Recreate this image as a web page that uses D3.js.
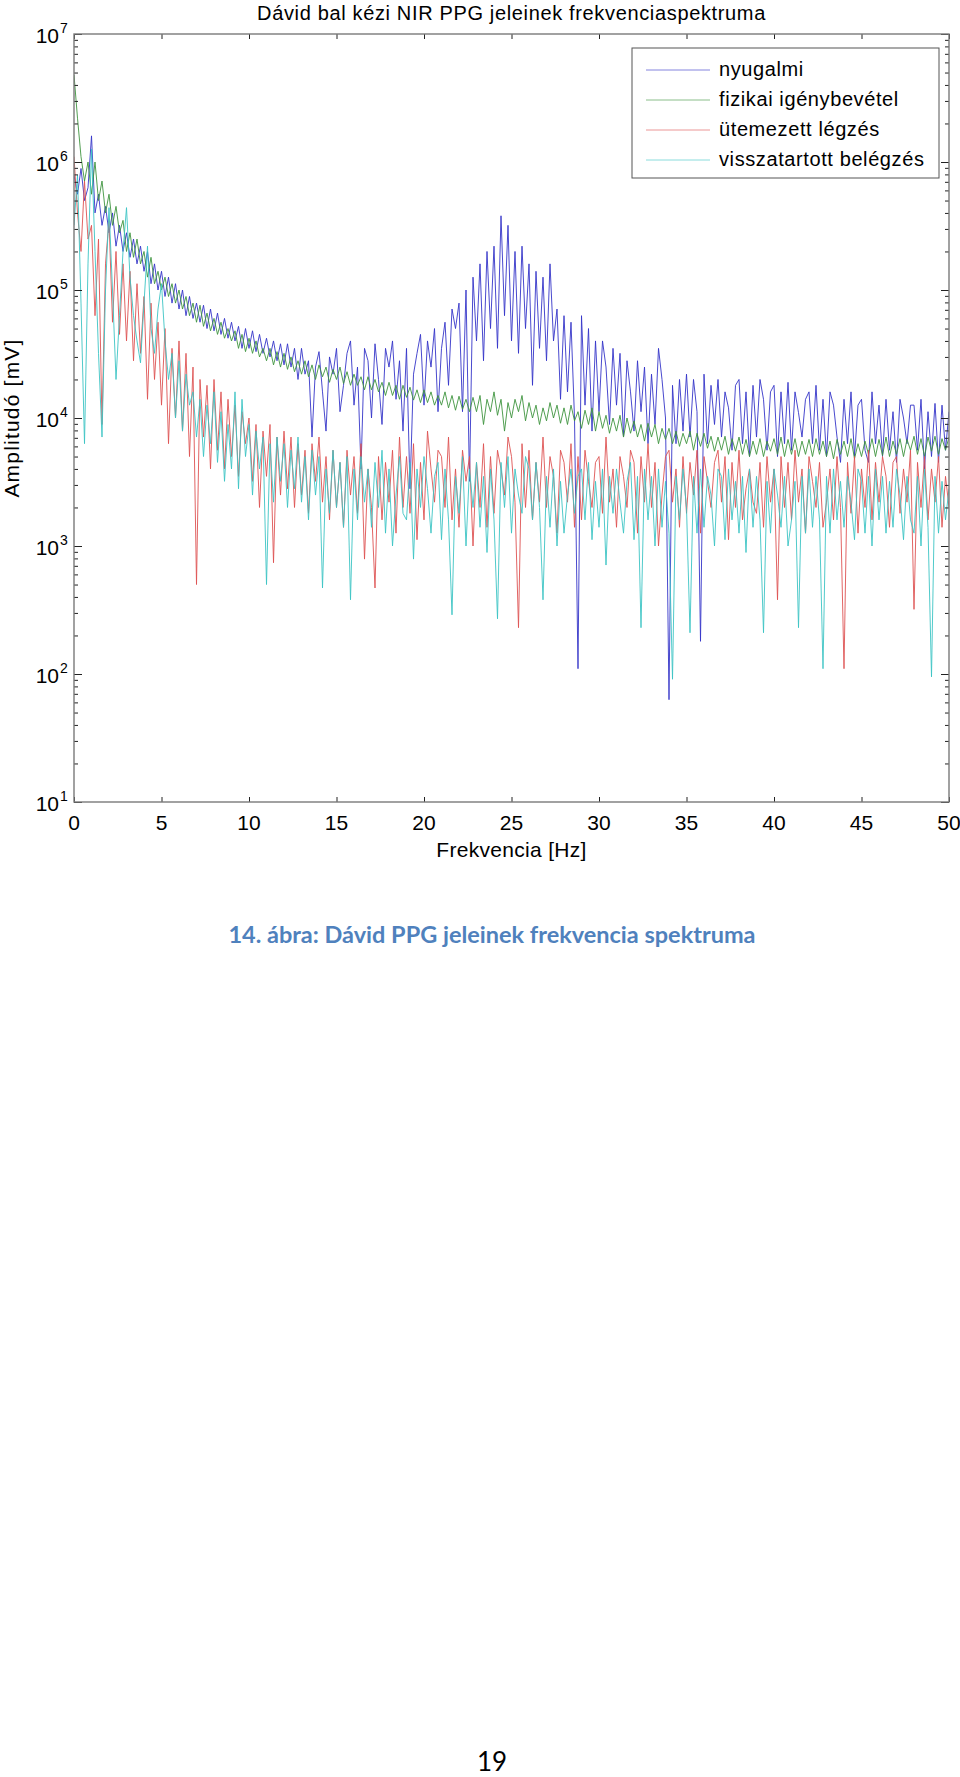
<!DOCTYPE html>
<html>
<head>
<meta charset="utf-8">
<script src="https://cdn.jsdelivr.net/npm/d3@7"></script>
<style>
  body { margin: 0; background: #fff; }
  text { font-family: "Liberation Sans", Arial, sans-serif; fill: #000; }
</style>
</head>
<body>
<div id="dchart"></div>
<script>
// FFT bin grid, 0.2 Hz apart, 0..50 Hz
const freqHz = d3.range(0, 251).map(i => i / 5);

// amplitudes [mV], one row per Hz (5 bins each)
const nyugalmi = [
  7.9e5, 5.6e5, 8.9e5, 5e5, 6.3e5,
  1.6e6, 4e5, 5.6e5, 3.2e5, 4.5e5,
  2.8e5, 4e5, 2.2e5, 3.2e5, 2e5,
  2.8e5, 1.8e5, 2.5e5, 1.6e5, 2.2e5,
  1.4e5, 2e5, 1.12e5, 1.6e5, 1e5,
  1.4e5, 8.9e4, 1.26e5, 7.9e4, 1.12e5,
  7.1e4, 1e5, 6.3e4, 8.9e4, 6e4,
  7.9e4, 5.6e4, 7.6e4, 5e4, 7.1e4,
  4.8e4, 6.6e4, 4.5e4, 6e4, 4.2e4,
  5.6e4, 4e4, 5.2e4, 3.5e4, 5e4,
  3.5e4, 4.8e4, 3.3e4, 4.5e4, 3.2e4,
  4.2e4, 3e4, 4e4, 2.8e4, 3.8e4,
  2.6e4, 3.8e4, 2.5e4, 3.5e4, 2e4,
  3.5e4, 2.2e4, 2.8e4, 7.1e3, 2.5e4,
  3.3e4, 1.6e4, 7.9e3, 3e4, 2.2e4,
  3.5e4, 1.12e4, 1.8e4, 3.2e4, 4e4,
  1.26e4, 2.5e4, 4e3, 3.5e4, 2.8e4,
  1e4, 3.8e4, 2e4, 8.9e3, 3.5e4,
  2.5e4, 4e4, 1.4e4, 2.8e4, 7.9e3,
  3.5e4, 2.8e3, 2.2e4, 3.2e4, 4.5e4,
  1.26e4, 4e4, 2.5e4, 5e4, 1.12e4,
  3.5e4, 5.6e4, 1.8e4, 7.1e4, 5e4,
  7.9e4, 1.12e4, 1e5, 3.2e3, 1.26e5,
  4e4, 1.6e5, 2.8e4, 2e5, 5e4,
  2.2e5, 3.5e4, 3.8e5, 6.3e4, 3.2e5,
  4e4, 2e5, 3.2e4, 2.2e5, 5e4,
  1.6e5, 1.8e4, 1.4e5, 3.5e4, 1.26e5,
  2.8e4, 1.6e5, 4e4, 7.1e4, 1.4e4,
  6.3e4, 1.6e4, 5.6e4, 1e4, 1.1e2,
  6.3e4, 1.26e4, 5e4, 7.9e3, 4e4,
  1.12e4, 4e4, 2.5e4, 8.9e3, 3.5e4,
  1.26e4, 3.2e4, 7.1e3, 2.8e4, 1.6e4,
  7.9e3, 2.8e4, 1.12e4, 2.5e4, 6.3e3,
  2.2e4, 8.9e3, 3.5e4, 2e4, 1e4,
  63, 1.8e4, 6.3e3, 2e4, 7.9e3,
  2.2e4, 7.1e3, 2e4, 1.12e4, 1.8e2,
  2.2e4, 6.3e3, 1.8e4, 8.9e3, 2e4,
  7.1e3, 1.6e4, 1.2e4, 5.6e3, 1.8e4,
  2e4, 6.3e3, 1.6e4, 5e3, 1.8e4,
  7.1e3, 2e4, 1.4e4, 5.6e3, 1.6e4,
  1.8e4, 5e3, 1.6e4, 6.3e3, 1.9e4,
  5.6e3, 1.6e4, 1.1e4, 7.1e3, 1.4e4,
  1.6e4, 6.3e3, 1.8e4, 5.6e3, 1.4e4,
  5e3, 1.6e4, 1.26e4, 7.1e3, 4.5e3,
  1.4e4, 6.3e3, 1.6e4, 5e3, 1.26e4,
  1.4e4, 5.6e3, 4.5e3, 1.6e4, 6.3e3,
  1.26e4, 5e3, 1.4e4, 5.6e3, 1.12e4,
  4.5e3, 1.4e4, 1e4, 6.3e3, 1.26e4,
  1.26e4, 5.6e3, 1.4e4, 4e3, 1.12e4,
  5e3, 1.3e4, 4.5e3, 1.26e4, 5.6e3,
  1.12e4
];

const fizikai = [
  4.8e6, 2.2e6, 1.1e6, 7.1e5, 1e6,
  5.6e5, 1e6, 5e5, 7.1e5, 4e5,
  5.6e5, 3.2e5, 4.5e5, 2.8e5, 3.5e5,
  2e5, 2.8e5, 1.8e5, 2.5e5, 1.6e5,
  2e5, 1.26e5, 1.8e5, 1.12e5, 1.4e5,
  1e5, 1.26e5, 8.9e4, 1.12e5, 7.9e4,
  1e5, 7.1e4, 8.9e4, 6.3e4, 7.9e4,
  5.6e4, 7.6e4, 5.2e4, 6.6e4, 4.8e4,
  6e4, 4.5e4, 5.6e4, 4.2e4, 5e4,
  4e4, 4.8e4, 3.5e4, 4.5e4, 3.3e4,
  4.2e4, 3.2e4, 4e4, 3e4, 3.5e4,
  2.8e4, 3.5e4, 2.6e4, 3.3e4, 2.5e4,
  3.2e4, 2.4e4, 3e4, 2.3e4, 2.8e4,
  2.2e4, 2.8e4, 2.1e4, 2.6e4, 2e4,
  2.6e4, 2.1e4, 2.5e4, 1.9e4, 2.4e4,
  2e4, 2.5e4, 1.86e4, 2.3e4, 1.8e4,
  2.2e4, 1.8e4, 2.1e4, 1.66e4, 2.1e4,
  1.66e4, 2e4, 1.6e4, 1.9e4, 1.5e4,
  1.9e4, 1.5e4, 1.8e4, 1.4e4, 1.8e4,
  1.45e4, 1.74e4, 1.38e4, 1.66e4, 1.32e4,
  1.66e4, 1.32e4, 1.6e4, 1.26e4, 1.5e4,
  1.26e4, 1.6e4, 1.2e4, 1.5e4, 1.15e4,
  1.48e4, 1.17e4, 1.4e4, 1.12e4, 1.45e4,
  1.12e4, 1.5e4, 8.9e3, 1.4e4, 1.12e4,
  1.6e4, 1.05e4, 1.4e4, 7.9e3, 1.32e4,
  1e4, 1.4e4, 1.12e4, 1.5e4, 9.5e3,
  1.32e4, 1e4, 1.26e4, 8.9e3, 1.2e4,
  9.5e3, 1.32e4, 1e4, 1.26e4, 9.1e3,
  1.2e4, 8.9e3, 1.26e4, 9.5e3, 1.12e4,
  8.3e3, 1.15e4, 8.9e3, 1.2e4, 7.9e3,
  1.12e4, 8.3e3, 1.05e4, 7.6e3, 1e4,
  7.9e3, 1.05e4, 7.1e3, 1e4, 7.6e3,
  9.5e3, 7.1e3, 8.9e3, 6.6e3, 9.1e3,
  7.1e3, 8.9e3, 6.3e3, 8.3e3, 6.8e3,
  8.3e3, 6.3e3, 7.9e3, 6e3, 7.6e3,
  6.3e3, 7.9e3, 5.6e3, 7.6e3, 6e3,
  7.6e3, 5.8e3, 7.2e3, 5.5e3, 7.1e3,
  5.6e3, 7.2e3, 5.2e3, 6.9e3, 5.5e3,
  7.1e3, 5.2e3, 6.8e3, 5e3, 6.6e3,
  5.2e3, 6.9e3, 5e3, 6.6e3, 5.5e3,
  6.9e3, 5.2e3, 7.1e3, 5e3, 6.8e3,
  5.2e3, 6.9e3, 5e3, 6.6e3, 5.2e3,
  6.8e3, 5e3, 6.9e3, 5.2e3, 6.6e3,
  5e3, 6.6e3, 4.8e3, 6.8e3, 5.2e3,
  6.6e3, 5e3, 6.9e3, 4.8e3, 6.3e3,
  5e3, 6.6e3, 5.2e3, 6.9e3, 5e3,
  6.8e3, 5.1e3, 7.1e3, 5e3, 6.6e3,
  5.2e3, 6.9e3, 5e3, 6.8e3, 5.6e3,
  7.2e3, 5.2e3, 6.9e3, 5e3, 7.1e3,
  5.5e3, 7.2e3, 5.2e3, 6.9e3, 5.6e3,
  7.1e3
];

const utemezett = [
  1.1e6, 4e5, 2e5, 7.1e5, 2.5e5,
  3.2e5, 6.3e4, 2.5e5, 8.9e3, 1.6e5,
  3.5e5, 5.6e4, 2e5, 4.5e4, 1.6e5,
  4e4, 1.4e5, 2.8e4, 1.12e5, 3.2e4,
  8.9e4, 1.4e4, 7.9e4, 2e4, 5.6e4,
  1.26e4, 5e4, 6.3e3, 3.5e4, 1e4,
  4e4, 7.9e3, 3.2e4, 5e3, 2.5e4,
  5e2, 2e4, 7.1e3, 1.8e4, 4e3,
  2e4, 5.6e3, 1.6e4, 4e3, 1.4e4,
  5e3, 1.26e4, 3.5e3, 1.12e4, 6.3e3,
  1e4, 3.2e3, 8.9e3, 2e3, 7.9e3,
  3.5e3, 8.9e3, 7.4e2, 7.1e3, 2.5e3,
  7.9e3, 2.8e3, 7.1e3, 2e3, 6.3e3,
  2.5e3, 5.6e3, 1.8e3, 6.3e3, 3.2e3,
  7.1e3, 2.2e3, 5e3, 1.6e3, 5.6e3,
  2e3, 4.5e3, 1.4e3, 5.6e3, 2.5e3,
  5e3, 1.8e3, 6.3e3, 7.9e2, 4e3,
  2e3, 4.7e2, 5e3, 1.6e3, 4.5e3,
  2.2e3, 5.6e3, 1.26e3, 7.1e3, 2e3,
  5e3, 1.8e3, 6.3e3, 1.12e3, 4.5e3,
  1.6e3, 7.9e3, 4e3, 2.2e3, 5.6e3,
  5e3, 2e3, 7.1e3, 1.6e3, 4e3,
  1.4e3, 5.6e3, 3.2e3, 5e3, 1e3,
  4.5e3, 2e3, 6.3e3, 1.4e3, 5e3,
  1.8e3, 5.6e3, 4e3, 2.5e3, 7.1e3,
  5e3, 2.2e3, 2.3e2, 6.3e3, 2e3,
  5.6e3, 1.6e3, 4.5e3, 2.2e3, 7.1e3,
  2e3, 5e3, 3.5e3, 1.26e3, 5.6e3,
  4.5e3, 2.2e3, 6.3e3, 1.4e3, 5e3,
  1.6e3, 5.6e3, 3.2e3, 2e3, 4.5e3,
  5e3, 1.8e3, 7.1e3, 2.2e3, 4e3,
  1.4e3, 5e3, 3.5e3, 2e3, 5.6e3,
  4.5e3, 1.26e3, 5e3, 2.2e3, 6.3e3,
  2e3, 4.5e3, 1e3, 2.5e3, 5e3,
  5.6e3, 2.2e3, 4e3, 1.4e3, 5e3,
  1.8e3, 4.5e3, 2.5e3, 5.6e3, 1.26e3,
  5e3, 3.2e3, 2e3, 4.5e3, 5.6e3,
  2.2e3, 5e3, 1.12e3, 4.5e3, 2e3,
  5.6e3, 1.6e3, 2.8e3, 4e3, 2.2e3,
  1.8e3, 4.5e3, 1.4e3, 5e3, 2.2e3,
  4e3, 3.8e2, 5e3, 2e3, 4.5e3,
  1.6e3, 5.6e3, 2.2e3, 4e3, 1.26e3,
  5e3, 3.2e3, 2e3, 4.5e3, 1.4e3,
  2.2e3, 4e3, 1.6e3, 5e3, 2e3,
  1.1e2, 4.5e3, 1.8e3, 5e3, 1.26e3,
  4e3, 2e3, 5.6e3, 1.6e3, 4.5e3,
  2.2e3, 5e3, 3.5e3, 1.4e3, 4.5e3,
  5e3, 1.8e3, 4e3, 2.2e3, 5.6e3,
  3.2e2, 4.5e3, 2e3, 5e3, 1.6e3,
  4e3, 2.2e3, 5e3, 1.4e3, 3.5e3,
  2e3
];

const visszatartott = [
  3.2e5, 7.9e5, 7.9e4, 6.3e3, 1.6e5,
  1.26e6, 2e5, 3.2e4, 7.1e3, 1e5,
  4.4e5, 1e5, 2e4, 6.3e4, 2e5,
  4.4e5, 1.26e5, 6.3e4, 4e4, 2.7e4,
  7.9e4, 2.2e5, 5e4, 3.2e4, 7.1e4,
  1.12e5, 4e4, 2e4, 3.2e4, 1e4,
  2.8e4, 7.9e3, 2.2e4, 1.26e4, 1.6e4,
  7.1e3, 1.4e4, 5e3, 1.26e4, 6.3e3,
  1.6e4, 4.5e3, 1.12e4, 3.2e3, 8.9e3,
  4e3, 1.6e4, 2.8e3, 1.4e4, 5e3,
  8.9e3, 2.5e3, 7.9e3, 4e3, 7.1e3,
  5e2, 6.3e3, 2.2e3, 7.1e3, 3.2e3,
  6.3e3, 2e3, 5.6e3, 2.8e3, 7.1e3,
  2.2e3, 5e3, 1.6e3, 5.6e3, 2.5e3,
  5e3, 4.7e2, 4e3, 1.8e3, 5.6e3,
  2e3, 4.5e3, 1.4e3, 5e3, 3.8e2,
  4e3, 1.6e3, 5e3, 2.2e3, 4e3,
  1.4e3, 4.5e3, 2e3, 5.6e3, 1.26e3,
  4e3, 1e3, 2.5e3, 5e3, 1.8e3,
  1.6e3, 4.5e3, 7.9e2, 4e3, 2e3,
  5e3, 2.8e3, 1.26e3, 3.5e3, 4.5e3,
  1.12e3, 4e3, 1.6e3, 2.9e2, 3.5e3,
  1.8e3, 5e3, 1e3, 4e3, 2e3,
  4.5e3, 1.4e3, 3.5e3, 8.9e2, 4e3,
  1.6e3, 2.7e2, 4.5e3, 2e3, 5e3,
  1.26e3, 4e3, 2.5e3, 1.8e3, 5e3,
  4e3, 1.6e3, 4.5e3, 2e3, 3.8e2,
  3.5e3, 1.4e3, 4e3, 1e3, 3.2e3,
  1.26e3, 2.5e3, 4e3, 1.8e3, 3.5e3,
  4e3, 1.6e3, 4.5e3, 1.12e3, 3.2e3,
  1.4e3, 4e3, 7.1e2, 3.5e3, 1.8e3,
  4e3, 2.2e3, 1.26e3, 3.2e3, 4.5e3,
  1.12e3, 3.5e3, 2.3e2, 4e3, 1.6e3,
  3.5e3, 1e3, 4e3, 1.4e3, 3.2e3,
  1.26e3, 91, 3.5e3, 1.6e3, 4e3,
  2e3, 2.1e2, 3.5e3, 1.26e3, 4e3,
  1.4e3, 3.5e3, 2.5e3, 1e3, 4e3,
  3.5e3, 1.12e3, 4e3, 1.6e3, 3.2e3,
  1.26e3, 3.5e3, 8.9e2, 4e3, 1.4e3,
  3.5e3, 1.6e3, 2.1e2, 3.2e3, 1.26e3,
  4e3, 2.5e3, 1.4e3, 3.5e3, 1e3,
  1.6e3, 3.2e3, 2.3e2, 3.5e3, 1.26e3,
  4e3, 1.4e3, 3.5e3, 1.6e3, 1.1e2,
  3.5e3, 1.26e3, 4e3, 1.6e3, 3.2e3,
  1.4e3, 3.5e3, 2.2e3, 1.12e3, 4e3,
  3.2e3, 1.26e3, 3.5e3, 1e3, 4e3,
  1.6e3, 3.5e3, 1.26e3, 3.2e3, 1.4e3,
  4e3, 2.5e3, 1.12e3, 3.5e3, 1.6e3,
  1.26e3, 3.5e3, 1e3, 4e3, 1.4e3,
  95, 3.5e3, 1.26e3, 3.2e3, 1.6e3,
  2.8e3
];

const seriesNames = ["nyugalmi", "fizikai igénybevétel", "ütemezett légzés", "visszatartott belégzés"];
const seriesValues = [nyugalmi, fizikai, utemezett, visszatartott];
const seriesColors = ["#3434c8", "#3e943e", "#de5252", "#3cc4c4"];

const xTicks = [0, 5, 10, 15, 20, 25, 30, 35, 40, 45, 50];
const yDecades = [1, 2, 3, 4, 5, 6, 7];

const titleText = "Dávid bal kézi NIR PPG jeleinek frekvenciaspektruma";
const xLabel = "Frekvencia [Hz]";
const yLabel = "Amplitudó [mV]";
const captionText = "14. ábra: Dávid PPG jeleinek frekvencia spektruma";
const pageNumber = "19";

const width = 960, height = 1777;
const marge = {top: 34, left: 74, right: 11, bottom: 975};
const plotW = width - marge.left - marge.right;
const plotH = height - marge.top - marge.bottom;

const svg = d3.select("#dchart").append("svg")
    .attr("width", width).attr("height", height);
svg.append("rect").attr("width", width).attr("height", height).attr("fill", "#fff");

const x = d3.scaleLinear().domain([0, 50]).range([marge.left, marge.left + plotW]);
const y = d3.scaleLog().domain([1e1, 1e7]).range([marge.top + plotH, marge.top]);
const yMajor = yDecades.map(e => Math.pow(10, e));
const yMinor = y.ticks().filter(v => !yMajor.includes(v));

svg.append("clipPath").attr("id", "plotclip")
  .append("rect").attr("x", marge.left).attr("y", marge.top).attr("width", plotW).attr("height", plotH);

// spectra, drawn in legend order (last on top)
const line = d3.line()
    .x((d, i) => x(freqHz[i]))
    .y(d => y(d));

svg.append("g").attr("clip-path", "url(#plotclip)")
  .selectAll("path").data(seriesValues).join("path")
    .attr("d", d => line(d))
    .attr("fill", "none")
    .attr("stroke", (d, i) => seriesColors[i])
    .attr("stroke-width", 0.9)
    .attr("stroke-linejoin", "round");

// axes: ticks inward on all four sides
function noDomain(g){ g.select(".domain").remove(); g.selectAll("line").attr("stroke", "#222"); }
const yBottom = marge.top + plotH, xRight = marge.left + plotW;

svg.append("g").attr("transform", `translate(0,${yBottom})`)
  .call(d3.axisBottom(x).tickValues(xTicks).tickSize(-5).tickFormat("")).call(noDomain);
svg.append("g").attr("transform", `translate(0,${marge.top})`)
  .call(d3.axisTop(x).tickValues(xTicks).tickSize(-5).tickFormat("")).call(noDomain);
svg.append("g").attr("transform", `translate(${marge.left},0)`)
  .call(d3.axisLeft(y).tickValues(yMajor).tickSize(-8).tickFormat("")).call(noDomain);
svg.append("g").attr("transform", `translate(${marge.left},0)`)
  .call(d3.axisLeft(y).tickValues(yMinor).tickSize(-4).tickFormat("")).call(noDomain);
svg.append("g").attr("transform", `translate(${xRight},0)`)
  .call(d3.axisRight(y).tickValues(yMajor).tickSize(-8).tickFormat("")).call(noDomain);
svg.append("g").attr("transform", `translate(${xRight},0)`)
  .call(d3.axisRight(y).tickValues(yMinor).tickSize(-4).tickFormat("")).call(noDomain);

svg.append("rect")
    .attr("x", marge.left).attr("y", marge.top).attr("width", plotW).attr("height", plotH)
    .attr("fill", "none").attr("stroke", "#7a7a7a").attr("stroke-width", 1.4);

// tick labels
svg.append("g").selectAll("text").data(xTicks).join("text")
    .attr("x", d => x(d)).attr("y", yBottom + 28)
    .attr("text-anchor", "middle").attr("font-size", 21)
    .text(d => d);

const yl = svg.append("g").selectAll("g").data(yDecades).join("g");
yl.append("text")
    .attr("x", marge.left - 15).attr("y", d => y(Math.pow(10, d)) + 9)
    .attr("text-anchor", "end").attr("font-size", 21)
    .text("10");
yl.append("text")
    .attr("x", marge.left - 14).attr("y", d => y(Math.pow(10, d)) - 1)
    .attr("font-size", 14)
    .text(d => d);

// titles
svg.append("text").attr("x", (marge.left + xRight) / 2).attr("y", 20)
    .attr("text-anchor", "middle").attr("font-size", 20)
    .attr("letter-spacing", 0.65).text(titleText);
svg.append("text").attr("x", (marge.left + xRight) / 2).attr("y", yBottom + 55)
    .attr("text-anchor", "middle").attr("font-size", 21)
    .attr("letter-spacing", 0.3).text(xLabel);
svg.append("text").attr("transform", `translate(19,${(marge.top + yBottom) / 2}) rotate(-90)`)
    .attr("text-anchor", "middle").attr("font-size", 21)
    .attr("letter-spacing", 1.2).text(yLabel);

// legend
const lg = svg.append("g").attr("transform", "translate(632,48)");
lg.append("rect").attr("width", 307).attr("height", 130)
    .attr("fill", "#fff").attr("stroke", "#555").attr("stroke-width", 1);
const rows = lg.selectAll("g").data(seriesNames).join("g")
    .attr("transform", (d, i) => `translate(0,${22 + i * 30})`);
rows.append("line").attr("x1", 14).attr("x2", 78)
    .attr("stroke", (d, i) => seriesColors[i]).attr("stroke-opacity", 0.6).attr("stroke-width", 1);
rows.append("text").attr("x", 87).attr("y", 6).attr("font-size", 20)
    .attr("letter-spacing", 0.6).text(d => d);

// document caption and page number
svg.append("text").attr("x", 492).attr("y", 943)
    .attr("text-anchor", "middle")
    .style("font-family", "Lato, 'Noto Sans', sans-serif").style("font-weight", "bold")
    .style("fill", "#4f81bd").attr("font-size", 22)
    .attr("textLength", 527).attr("lengthAdjust", "spacingAndGlyphs")
    .text(captionText);
svg.append("text").attr("x", 492).attr("y", 1771)
    .attr("text-anchor", "middle")
    .style("font-family", "Lato, 'Noto Sans', sans-serif")
    .attr("font-size", 26).text(pageNumber);
</script>
</body>
</html>
